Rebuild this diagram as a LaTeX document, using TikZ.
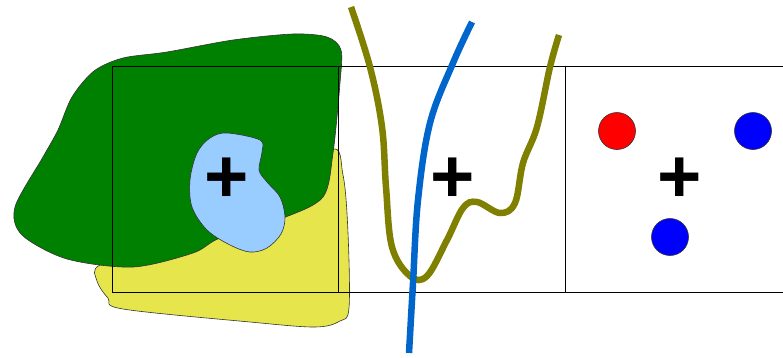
\documentclass[tikz,border=0pt]{standalone}
\usepackage{fontspec}
\setmainfont{Liberation Sans}
\usetikzlibrary{positioning}
\definecolor{blobGreen}{RGB}{0,128,0}
\definecolor{blobYellow}{RGB}{230,230,76}
\definecolor{blobBlue}{RGB}{153,204,255}
\definecolor{curveOlive}{RGB}{128,128,0}
\definecolor{curveBlue}{RGB}{0,102,204}
\tikzset{
  blob/.style={draw=black!80, line width=0.6pt},
  frame/.style={draw=black, line width=0.8pt},
  thickcurve/.style={line width=6.5pt},
  plus/.style={font=\fontsize{76}{76}\selectfont\bfseries, inner sep=0pt},
  dot/.style={circle, draw=black!80, line width=0.6pt, minimum size=37pt, inner sep=0pt}
}
\begin{document}
\begin{tikzpicture}[x=1pt, y=-1pt]
\useasboundingbox (0,0) rectangle (783,357);
% blobs
\draw[blob, fill=blobYellow] plot[smooth cycle, tension=0.55] coordinates
  {(330,150) (343,175) (348,233) (349,308) (340,321) (315,327) (250,322) (123,309)
   (108,298) (97,281) (100,265) (160,250) (260,215)};
\draw[blob, fill=blobGreen] plot[smooth cycle, tension=0.5] coordinates
  {(123,58) (94,71) (72,97) (58,130) (43,157) (15,207) (22,235) (67,259) (133,267)
   (193,253) (220,238) (283,218) (323,197) (333,153) (340,83) (341,50) (327,37)
   (293,34) (233,40) (167,52)};
\draw[blob, fill=blobBlue] plot[smooth cycle, tension=0.55] coordinates
  {(227,133) (260,140) (262,152) (259,170) (267,182) (280,197) (285,217) (281,234)
   (267,248) (250,252) (230,245) (207,230) (192,207) (190,180) (197,153) (210,138)};
% boxes
\draw[frame] (112,66) rectangle (338,292);
\draw[frame] (338,66) rectangle (565,292);
\draw[frame] (783,66) -- (565,66) -- (565,292) -- (783,292);
% curves
\draw[thickcurve, curveOlive] plot[smooth, tension=0.6] coordinates
  {(351,7) (370,67) (382,127) (386,187) (392,247) (410,276) (427,276) (447,240)
   (463,208) (477,202) (500,213) (515,203) (523,163) (537,127) (550,67) (559,35)};
\draw[thickcurve, curveBlue] plot[smooth, tension=0.6] coordinates
  {(472,22) (453,63) (430,123) (418,200) (413,283) (409,353)};
% centres
\node[plus] (plusA) at (227,180) {+};
\node[plus] (plusB) at (453,180) {+};
\node[plus] (plusC) at (680,180) {+};
% points
\node[dot, fill=red] (redPt) at (617,131) {};
\node[dot, fill=blue] (bluePtA) at (753,131) {};
\node[dot, fill=blue] (bluePtB) at (670,237) {};
\end{tikzpicture}
\end{document}
